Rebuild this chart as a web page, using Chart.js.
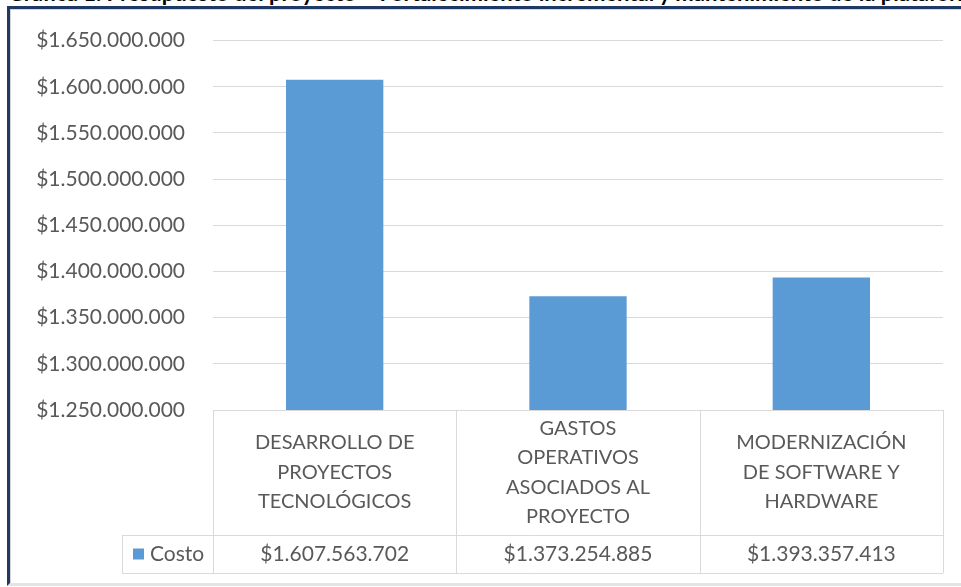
<!DOCTYPE html>
<html>
<head>
<meta charset="utf-8">
<script src="https://cdn.jsdelivr.net/npm/chart.js@4"></script>
<style>
    html, body { margin: 0; padding: 0; background: #fff; }
    #wrap { position: relative; width: 961px; height: 587px; overflow: hidden; }
    #titulo {
        position: absolute; left: 0; top: 0; width: 961px; height: 6px; overflow: hidden;
    }
    #titulo span {
        position: absolute; left: 8px; top: -21px; white-space: nowrap;
        font: bold 22px Lato, sans-serif; color: #000;
    }
    #marco {
        position: absolute; left: 7px; top: 6px; width: 960px; height: 574px;
        border-top: 3px solid #1f3864; border-left: 3px solid #1f3864;
        border-bottom: 3px solid #e3e3e3;
        box-shadow: inset 1px 1px 0 #d5d5d5;
    }
    canvas { position: absolute; left: 0; top: 0; }
</style>
</head>
<body>
<div id="wrap">
    <div id="titulo"><span>Gráfica 1. Presupuesto del proyecto – Fortalecimiento incremental y mantenimiento de la plataforma tecnológica</span></div>
    <div id="marco"></div>
    <canvas id="myChart" width="961" height="587"></canvas>
</div>
<script>
// categorias (una linea de texto por elemento) y costos
let categorias = [
    ['DESARROLLO DE', 'PROYECTOS', 'TECNOLÓGICOS'],
    ['GASTOS', 'OPERATIVOS', 'ASOCIADOS AL', 'PROYECTO'],
    ['MODERNIZACIÓN', 'DE SOFTWARE Y', 'HARDWARE']
];
let costos = [1607563702, 1373254885, 1393357413];
let serie = 'Costo';
let ejeMin = 1250000000;
let ejeMax = 1650000000;
let ejePaso = 50000000;

const azul = '#5b9bd5';
const gris = '#595959';
const linea = '#d9d9d9';
const fuente = 'Lato, sans-serif';

function pesos(v) {
    return '$' + Math.round(v).toString().replace(/\B(?=(\d{3})+(?!\d))/g, '.');
}

// tabla de datos bajo el eje (estilo excel)
const tablaDatos = {
    id: 'tablaDatos',
    afterDraw(chart) {
        let ctx = chart.ctx;
        let x = chart.scales.x;
        let top = chart.chartArea.bottom;
        let filaCat = top + 125;
        let filaVal = filaCat + 38;
        let ancho = (x.right - x.left) / categorias.length;
        let izqLeyenda = x.left - 91;

        ctx.save();
        ctx.strokeStyle = linea;
        ctx.lineWidth = 1;
        ctx.beginPath();
        for (let i = 0; i <= categorias.length; i++) {
            let px = Math.round(x.left + i * ancho) + 0.5;
            ctx.moveTo(px, top);
            ctx.lineTo(px, filaVal);
        }
        ctx.moveTo(izqLeyenda + 0.5, filaCat);
        ctx.lineTo(izqLeyenda + 0.5, filaVal);
        ctx.moveTo(izqLeyenda, filaCat + 0.5);
        ctx.lineTo(x.right, filaCat + 0.5);
        ctx.moveTo(izqLeyenda, filaVal + 0.5);
        ctx.lineTo(x.right, filaVal + 0.5);
        ctx.stroke();

        ctx.fillStyle = gris;
        ctx.textAlign = 'center';
        ctx.textBaseline = 'middle';
        let centroCat = (top + filaCat) / 2;
        let centroVal = (filaCat + filaVal) / 2;
        for (let i = 0; i < categorias.length; i++) {
            let cx = x.getPixelForValue(i);
            let lineas = categorias[i];
            let alto = 29.5;
            let y0 = centroCat - (lineas.length - 1) * alto / 2;
            ctx.font = '20px ' + fuente;
            for (let j = 0; j < lineas.length; j++) {
                ctx.fillText(lineas[j], cx, y0 + j * alto);
            }
            ctx.font = '21px ' + fuente;
            ctx.fillText(pesos(costos[i]), cx, centroVal);
        }

        // leyenda
        ctx.fillStyle = azul;
        ctx.fillRect(izqLeyenda + 11, centroVal - 5.5, 11, 11);
        ctx.fillStyle = gris;
        ctx.textAlign = 'left';
        ctx.font = '21px ' + fuente;
        ctx.fillText(serie, izqLeyenda + 28, centroVal);
        ctx.restore();
    }
};

let myChart = new Chart('myChart', {
    type: 'bar',
    data: {
        labels: categorias.map(c => c.join(' ')),
        datasets: [{
            label: serie,
            data: costos,
            backgroundColor: azul,
            barPercentage: 0.4,
            categoryPercentage: 1
        }]
    },
    options: {
        responsive: false,
        animation: false,
        layout: { padding: { top: 38, right: 18, bottom: 177, left: 0 } },
        plugins: {
            legend: { display: false },
            tooltip: { enabled: false }
        },
        scales: {
            x: {
                display: false
            },
            y: {
                min: ejeMin,
                max: ejeMax,
                ticks: {
                    stepSize: ejePaso,
                    padding: 28,
                    color: gris,
                    font: { family: fuente, size: 21 },
                    callback: v => pesos(v)
                },
                grid: { color: linea, drawTicks: false },
                border: { display: false },
                afterFit: function (scale) { scale.width = 213; }
            }
        }
    },
    plugins: [tablaDatos]
});
</script>
</body>
</html>
